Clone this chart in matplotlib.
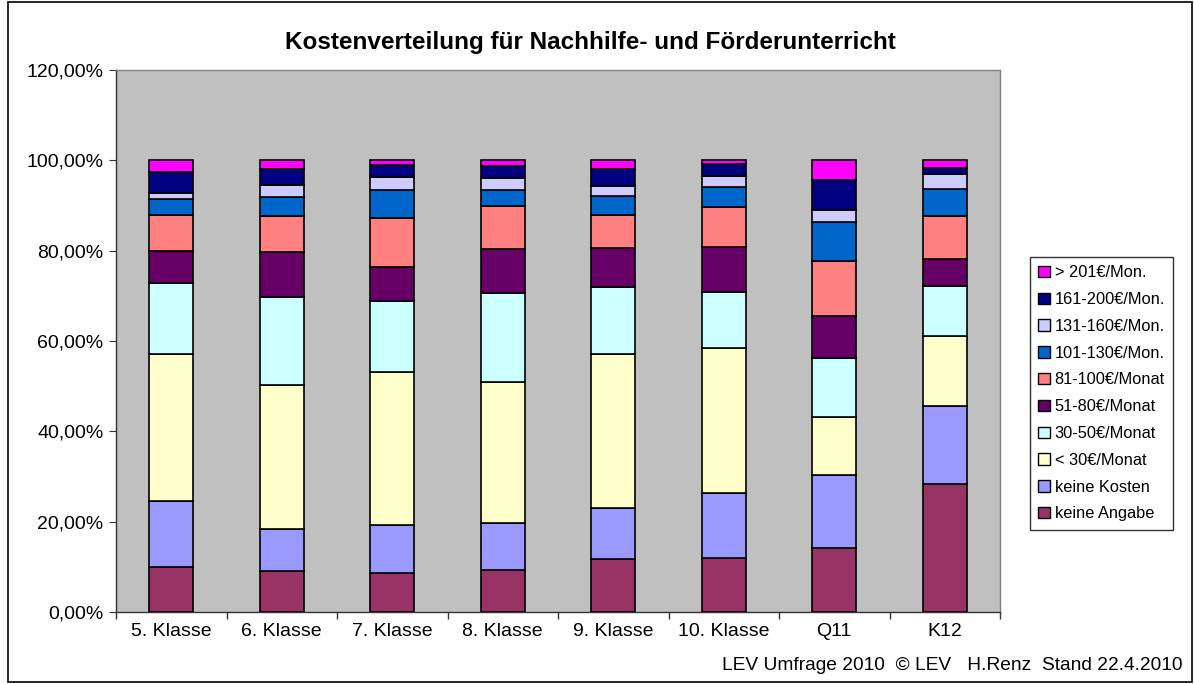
import matplotlib
matplotlib.use("Agg")
import matplotlib.pyplot as plt
import numpy as np
from matplotlib.patches import Rectangle, Patch
from matplotlib.ticker import FuncFormatter, FixedLocator

plt.rcParams['font.family'] = ['Liberation Sans', 'DejaVu Sans']

categories = ["5. Klasse", "6. Klasse", "7. Klasse", "8. Klasse", "9. Klasse", "10. Klasse", "Q11", "K12"]
series_names = ["keine Angabe", "keine Kosten", "< 30€/Monat", "30-50€/Monat", "51-80€/Monat",
                "81-100€/Monat", "101-130€/Mon.", "131-160€/Mon.", "161-200€/Mon.", "> 201€/Mon."]
keine_angabe = [10.0, 9.1, 8.7, 9.4, 11.7, 12.0, 14.1, 28.3]
keine_kosten = [14.6, 9.3, 10.6, 10.3, 11.3, 14.3, 16.2, 17.3]
unter_30 = [32.5, 31.9, 33.8, 31.3, 34.2, 32.2, 12.9, 15.6]
k30_50 = [15.8, 19.5, 15.7, 19.7, 14.8, 12.3, 13.0, 10.9]
k51_80 = [7.0, 10.0, 7.6, 9.7, 8.7, 10.0, 9.3, 6.0]
k81_100 = [7.9, 7.9, 10.9, 9.6, 7.3, 8.9, 12.3, 9.6]
k101_130 = [3.7, 4.2, 6.1, 3.4, 4.0, 4.4, 8.6, 5.9]
k131_160 = [1.3, 2.7, 2.9, 2.6, 2.4, 2.5, 2.6, 3.4]
k161_200 = [4.7, 3.4, 2.7, 2.7, 3.6, 2.6, 6.6, 1.4]
ueber_201 = [2.5, 2.0, 1.0, 1.3, 2.0, 0.8, 4.4, 1.6]
series_values = [keine_angabe, keine_kosten, unter_30, k30_50, k51_80,
                 k81_100, k101_130, k131_160, k161_200, ueber_201]
colors = ["#993366", "#9999FF", "#FFFFCC", "#CCFFFF", "#660066",
          "#FF8080", "#0066CC", "#CCCCFF", "#000080", "#FF00FF"]
y_ticks = [0, 20, 40, 60, 80, 100, 120]

fig = plt.figure(figsize=(11.94, 6.84), dpi=100)
W, H = 1194, 684
ax = fig.add_axes([116 / W, 1 - 612 / H, (1000 - 116) / W, (612 - 70) / H])
ax.set_facecolor("#C0C0C0")

x = np.arange(len(categories))
bottom = np.zeros(len(categories))
for name, vals, c in zip(series_names, series_values, colors):
    v = np.array(vals)
    ax.bar(x, v, 0.4, bottom=bottom, color=c, edgecolor="black", linewidth=1.2, label=name, zorder=3)
    bottom += v

ax.set_xlim(-0.5, len(categories) - 0.5)
ax.set_ylim(0, 120)
ax.yaxis.set_major_locator(FixedLocator(y_ticks))
ax.yaxis.set_major_formatter(FuncFormatter(lambda v, p: f"{v:.2f}".replace(".", ",") + "%"))
ax.set_xticks(x)
ax.set_xticklabels(categories)
ax.set_xticks(np.arange(-0.5, len(categories)), minor=True)
ax.tick_params(axis="x", which="major", length=0, pad=8, labelsize=14)
ax.tick_params(axis="x", which="minor", length=5, direction="out", width=1, color="#333333")
ax.tick_params(axis="y", length=5, direction="out", labelsize=14, pad=4, color="#333333")
for s in ["top", "right"]:
    ax.spines[s].set_color("#808080")
    ax.spines[s].set_linewidth(1)
for s in ["left", "bottom"]:
    ax.spines[s].set_color("#333333")
    ax.spines[s].set_linewidth(1)

fig.text(590 / W, 1 - 42 / H, "Kostenverteilung für Nachhilfe- und Förderunterricht",
         ha="center", va="center", fontsize=17.5, fontweight="bold")
fig.text(1182 / W, 1 - 665 / H, "LEV Umfrage 2010  © LEV   H.Renz  Stand 22.4.2010",
         ha="right", va="center", fontsize=13.8)

handles = [Patch(facecolor=c, edgecolor="black", linewidth=1, label=n)
           for n, c in zip(series_names, colors)][::-1]
leg = fig.legend(handles=handles, loc="upper left", bbox_to_anchor=(1030 / W, 1 - 257 / H),
                 frameon=True, fontsize=11.8, handlelength=0.7, handleheight=0.7,
                 handletextpad=0.3, labelspacing=0.72, borderpad=0.5, fancybox=False,
                 borderaxespad=0)
leg.get_frame().set_edgecolor("black")
leg.get_frame().set_linewidth(1)

fig.patches.append(Rectangle((8 / W, 2 / H), 1184 / W, 680 / H, transform=fig.transFigure,
                             fill=False, edgecolor="black", linewidth=1.2))

fig.savefig("out.png", dpi=100, facecolor="white")
